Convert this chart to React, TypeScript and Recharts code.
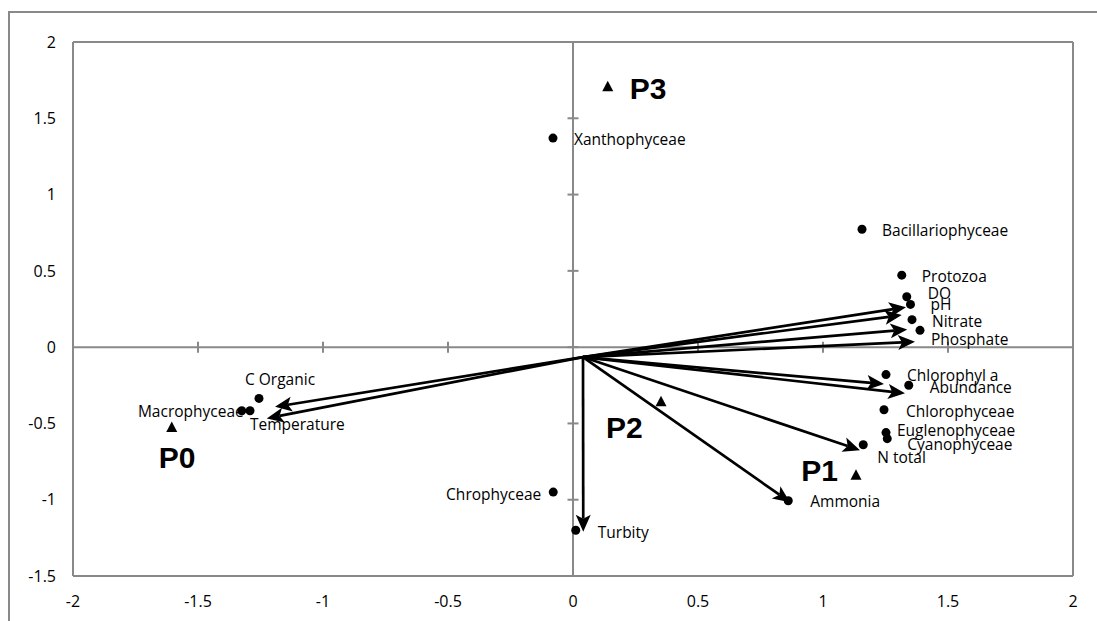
import React from 'react'
import { ScatterChart, Scatter, XAxis, YAxis, ReferenceLine } from 'recharts'

// biplot values
const speciesNames = ['Xanthophyceae', 'Bacillariophyceae', 'Protozoa', 'Chlorophyceae', 'Euglenophyceae', 'Cyanophyceae', 'Chrophyceae', 'Macrophyceae']
const speciesX = [-0.08, 1.156, 1.315, 1.244, 1.252, 1.257, -0.079, -1.325]
const speciesY = [1.37, 0.773, 0.472, -0.41, -0.56, -0.6, -0.95, -0.417]

const envNames = ['DO', 'pH', 'Nitrate', 'Phosphate', 'Chlorophyl a', 'Abundance', 'N total', 'Ammonia', 'Turbity', 'C Organic', 'Temperature']
const envX = [1.335, 1.35, 1.356, 1.388, 1.252, 1.343, 1.161, 0.861, 0.011, -1.256, -1.292]
const envY = [0.33, 0.28, 0.18, 0.11, -0.18, -0.25, -0.64, -1.007, -1.2, -0.336, -0.417]
const arrowX = [1.332, 1.315, 1.337, 1.368, 1.244, 1.328, 1.148, 0.868, 0.041, -1.192, -1.225]
const arrowY = [0.262, 0.21, 0.116, 0.035, -0.242, -0.303, -0.675, -1.016, -1.21, -0.391, -0.467]
const originX = 0.04
const originY = -0.065

const siteNames = ['P0', 'P1', 'P2', 'P3']
const siteX = [-1.605, 1.132, 0.352, 0.139]
const siteY = [-0.526, -0.84, -0.358, 1.706]

const xTicks = [-2, -1.5, -1, -0.5, 0, 0.5, 1, 1.5, 2]
const yTicks = [-1.5, -1, -0.5, 0, 0.5, 1, 1.5, 2]

// label placement (px from marker) - layout only
const labelPos: Record<string, [number, number, 'start' | 'end']> = {
  Xanthophyceae: [21, 1, 'start'],
  Bacillariophyceae: [20, 1, 'start'],
  Protozoa: [20, 1, 'start'],
  DO: [21, -3, 'start'],
  pH: [20, 0, 'start'],
  Nitrate: [20, 2, 'start'],
  Phosphate: [11, 9, 'start'],
  'Chlorophyl a': [21, 1, 'start'],
  Abundance: [21, 2, 'start'],
  Chlorophyceae: [22, 2, 'start'],
  Euglenophyceae: [11, -2, 'start'],
  Cyanophyceae: [20, 6, 'start'],
  'N total': [14, 13, 'start'],
  Ammonia: [22, 1, 'start'],
  Turbity: [22, 2, 'start'],
  Chrophyceae: [-12, 2, 'end'],
  'C Organic': [-14, -19, 'start'],
  Macrophyceae: [2, 1, 'end'],
  Temperature: [0, 14, 'start'],
  P0: [-13, 30, 'start'],
  P1: [-18, -5, 'end'],
  P2: [-55, 25, 'start'],
  P3: [22, 1, 'start']
}

const species = speciesNames.map((name, i) => ({ name, x: speciesX[i], y: speciesY[i] }))
const env = envNames.map((name, i) => ({ name, x: envX[i], y: envY[i] }))
const sites = siteNames.map((name, i) => ({ name, x: siteX[i], y: siteY[i] }))
const arrows = envNames.map((name, i) => [
  { x: originX, y: originY },
  { x: arrowX[i], y: arrowY[i] }
])

const GRAY = '#898989'
const FONT = '"Open Sans", sans-serif'

const DotLabel = (props: any) => {
  const { cx, cy, payload } = props
  const [dx, dy, anchor] = labelPos[payload.name] || [10, 0, 'start']
  return (
    <g>
      <circle cx={cx} cy={cy} r={4.5} fill="#000" />
      <text x={cx + dx} y={cy + dy} dy="0.35em" textAnchor={anchor} fontSize={15.5} fontFamily={FONT} fill="#000">
        {payload.name}
      </text>
    </g>
  )
}

const SiteMark = (props: any) => {
  const { cx, cy, payload } = props
  const [dx, dy, anchor] = labelPos[payload.name]
  return (
    <g>
      <polygon points={`${cx},${cy - 6} ${cx + 5.5},${cy + 4.5} ${cx - 5.5},${cy + 4.5}`} fill="#000" />
      <text x={cx + dx} y={cy + dy} dy="0.36em" textAnchor={anchor} fontSize={30} fontWeight="bold" fontFamily='"Liberation Sans", Arial, sans-serif' fill="#000">
        {payload.name}
      </text>
    </g>
  )
}

const Arrow = (props: any) => {
  const pts = props.points
  if (!pts || pts.length < 2) return <g />
  const { x: x1, y: y1 } = pts[0]
  const { x: x2, y: y2 } = pts[1]
  const ang = Math.atan2(y2 - y1, x2 - x1)
  const c = Math.cos(ang)
  const s = Math.sin(ang)
  const len = 17
  const half = 7.5
  const bx = x2 - len * c
  const by = y2 - len * s
  return (
    <g>
      <line x1={x1} y1={y1} x2={bx + 4 * c} y2={by + 4 * s} stroke="#000" strokeWidth={2.7} />
      <polygon
        points={`${x2},${y2} ${bx - half * s},${by + half * c} ${bx + 4 * c},${by + 4 * s} ${bx + half * s},${by - half * c}`}
        fill="#000"
      />
    </g>
  )
}

const noShape = () => <g />

export default function App() {
  return (
    <div style={{ position: 'absolute', left: 0, top: 0, width: 1097, height: 621, background: '#fff', overflow: 'hidden' }}>
      <div style={{ position: 'absolute', left: 8, top: 11, width: 1200, height: 700, borderLeft: `2px solid ${GRAY}`, borderTop: `2px solid ${GRAY}` }} />
      <div style={{ position: 'absolute', left: 0, top: 0 }}>
        <ScatterChart width={1097} height={621} margin={{ top: 42, right: 24, bottom: 0, left: 0 }}>
          <XAxis
            type="number"
            dataKey="x"
            domain={[-2, 2]}
            ticks={xTicks}
            axisLine={false}
            tickLine={false}
            tickSize={8}
            tickMargin={12}
            height={45}
            tick={{ fill: '#000', fontSize: 16, fontFamily: FONT }}
          />
          <YAxis
            type="number"
            dataKey="y"
            domain={[-1.5, 2]}
            ticks={yTicks}
            axisLine={false}
            tickLine={false}
            tickSize={8}
            tickMargin={9}
            width={73}
            tick={{ fill: '#000', fontSize: 16, fontFamily: FONT }}
          />
          <ReferenceLine x={-2} stroke={GRAY} strokeWidth={2} />
          <ReferenceLine x={2} stroke={GRAY} strokeWidth={2} />
          <ReferenceLine y={2} stroke={GRAY} strokeWidth={2} />
          <ReferenceLine y={-1.5} stroke={GRAY} strokeWidth={2} />
          <ReferenceLine x={0} stroke={GRAY} strokeWidth={2} />
          <ReferenceLine y={0} stroke={GRAY} strokeWidth={2} />
          {xTicks.map((t) => (
            <ReferenceLine key={`xt${t}`} segment={[{ x: t, y: -0.036 }, { x: t, y: 0.036 }]} stroke={GRAY} strokeWidth={2} />
          ))}
          {yTicks.map((t) => (
            <ReferenceLine key={`yt${t}`} segment={[{ x: -0.022, y: t }, { x: 0.022, y: t }]} stroke={GRAY} strokeWidth={2} />
          ))}
          <Scatter data={species} shape={DotLabel} isAnimationActive={false} />
          <Scatter data={env} shape={DotLabel} isAnimationActive={false} />
          {arrows.map((a, i) => (
            <Scatter key={envNames[i]} data={a} line={Arrow} shape={noShape} isAnimationActive={false} />
          ))}
          <Scatter data={sites} shape={SiteMark} isAnimationActive={false} />
        </ScatterChart>
      </div>
    </div>
  )
}
